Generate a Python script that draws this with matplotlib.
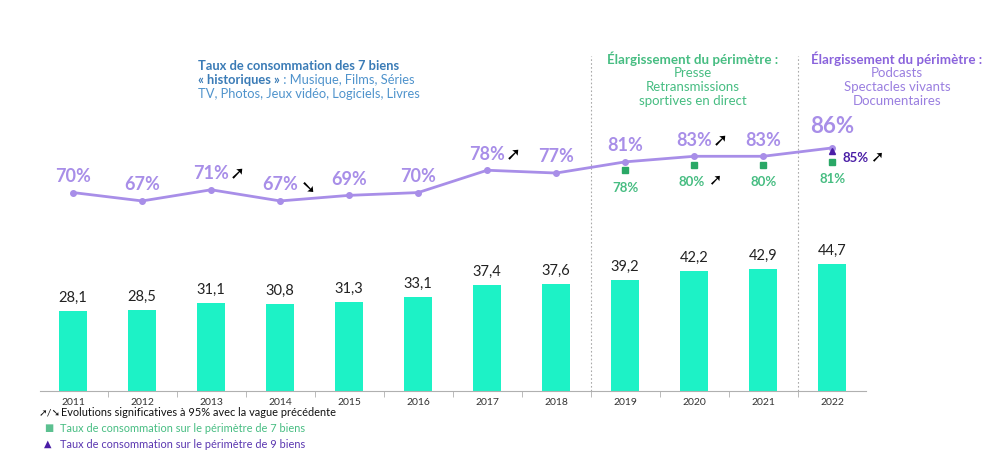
import matplotlib
matplotlib.use("Agg")
import matplotlib.pyplot as plt
import numpy as np

plt.rcParams['font.family'] = ['Lato', 'DejaVu Sans']

years = ["2011", "2012", "2013", "2014", "2015", "2016", "2017", "2018", "2019", "2020", "2021", "2022"]
volumes = [28.1, 28.5, 31.1, 30.8, 31.3, 33.1, 37.4, 37.6, 39.2, 42.2, 42.9, 44.7]
taux = [70, 67, 71, 67, 69, 70, 78, 77, 81, 83, 83, 86]
# arrow after the label: 1 up, -1 down, 0 none
taux_evol = [0, 0, 1, -1, 0, 0, 1, 0, 0, 1, 0, 0]
taux_7 = [78, 80, 80, 81]          # 2019-2022, 7 biens
taux_7_evol = [0, 1, 0, 0]
taux_9 = 85                        # 2022, 9 biens

UP = "➚"
DOWN = "➘"

BAR = "#1df2c6"
LINE = "#a88ee8"
GREEN = "#47bd82"
GREEN_M = "#2aa866"
DPURPLE = "#4a1ea6"
BLUE = "#3a7bb6"
BLUE_L = "#4f93cc"

fig = plt.figure(figsize=(10.04, 4.62), dpi=100)
ax = fig.add_axes([40/1004, 71/462, 826/1004, 391/462])
x = np.arange(len(years))

ax.bar(x, volumes, width=0.41, color=BAR, zorder=2)
for xi, v in zip(x, volumes):
    ax.text(xi, v + 4.6, "{:.1f}".format(v).replace(".", ","), ha="center", va="center",
            fontsize=10.5, color="#222222")

ax.set_xlim(-0.48, 11.49)
ax.set_ylim(0, 137.7)
for s in ["top", "right", "left"]:
    ax.spines[s].set_visible(False)
ax.spines["bottom"].set_color("#b0b0b0")
ax.set_yticks([])
ax.set_xticks(x)
ax.set_xticklabels(years, fontsize=7.5, color="#333333")
ax.tick_params(axis="x", which="major", length=0, pad=5)
ax.set_xticks(np.arange(-0.5, 12, 1), minor=True)
ax.tick_params(axis="x", which="minor", length=4, color="#b0b0b0")

# dashed separators
for xs in [7.5, 10.5]:
    ax.plot([xs, xs], [0, 118], color="#aaaaaa", lw=0.8, ls=(0, (1.5, 2)), zorder=1)

# percentage axis
ax2 = ax.twinx()
ax2.set_ylim(-1.1, 139.0)
ax2.set_xlim(-0.48, 11.49)
ax2.axis("off")
ax2.plot(x, taux, color=LINE, lw=2, marker="o", ms=4, zorder=3)
for i, (xi, t) in enumerate(zip(x, taux)):
    fs = 16 if i == len(x) - 1 else 13
    off = 7.5 if i == len(x) - 1 else 5.8
    ax2.text(xi, t + off, "{}%".format(t), ha="center", va="center", fontsize=fs,
             fontweight="bold", color=LINE)
    if taux_evol[i] > 0:
        ax2.text(xi + 0.38, t + off - 0.3, UP, ha="center", va="center",
                 fontsize=13, color="black")
    elif taux_evol[i] < 0:
        ax2.text(xi + 0.41, t + off - 1.0, DOWN, ha="center", va="center",
                 fontsize=13, color="black")

x7 = x[-4:]
ax2.plot(x7, taux_7, ls="none", marker="s", ms=4.5, color=GREEN_M, zorder=3)
for j, (xi, t) in enumerate(zip(x7, taux_7)):
    ax2.text(xi - (0.04 if taux_7_evol[j] else 0), t - 6.2, "{}%".format(t), ha="center", va="center",
             fontsize=9.5, fontweight="bold", color=GREEN)
    if taux_7_evol[j]:
        ax2.text(xi + 0.3, t - 5.7, UP, ha="center", va="center", fontsize=11.5, color="black")

ax2.plot([x[-1]], [taux_9], ls="none", marker="^", ms=5, color=DPURPLE, zorder=4)
ax2.text(x[-1] + 0.15, taux_9 - 2.5, "{}%".format(taux_9), ha="left", va="center",
         fontsize=9.5, fontweight="bold", color=DPURPLE)
ax2.text(x[-1] + 0.64, taux_9 - 2.5, UP, ha="center", va="center", fontsize=11.5, color="black")

# header texts
fig.text(198/1004, 1 - 66/462, "Taux de consommation des 7 biens", fontsize=9.3,
         fontweight="bold", color=BLUE, va="center")
t1 = fig.text(198/1004, 1 - 80/462, "« historiques »", fontsize=9.3,
              fontweight="bold", color=BLUE, va="center")
fig.canvas.draw()
bb = t1.get_window_extent()
fig.text(bb.x1/1004, 1 - 80/462, " : Musique, Films, Séries", fontsize=9.3,
         color=BLUE_L, va="center")
fig.text(198/1004, 1 - 94/462, "TV, Photos, Jeux vidéo, Logiciels, Livres", fontsize=9.3,
         color=BLUE_L, va="center")

fig.text(693/1004, 1 - 59/462, "Élargissement du périmètre :", fontsize=9.6,
         fontweight="bold", color=GREEN, ha="center", va="center")
for k, s in enumerate(["Presse", "Retransmissions", "sportives en direct"]):
    fig.text(693/1004, 1 - (73 + 14*k)/462, s, fontsize=9.5, color=GREEN,
             ha="center", va="center")

fig.text(897/1004, 1 - 59/462, "Élargissement du périmètre :", fontsize=9.6,
         fontweight="bold", color="#8a63dc", ha="center", va="center")
for k, s in enumerate(["Podcasts", "Spectacles vivants", "Documentaires"]):
    fig.text(897/1004, 1 - (73 + 14*k)/462, s, fontsize=9.5, color="#9a7fe0",
             ha="center", va="center")

# legend
fig.text(39/1004, 1 - 413/462, UP + "/" + DOWN, fontsize=7.5, color="#111111", va="center")
fig.text(61/1004, 1 - 413/462, "Evolutions significatives à 95% avec la vague précédente",
         fontsize=7.9, color="#111111", va="center")
fig.text(44/1004, 1 - 428/462, "■", fontsize=7, color="#5cc090", va="center")
fig.text(60/1004, 1 - 429/462, "Taux de consommation sur le périmètre de 7 biens",
         fontsize=7.9, color=GREEN, va="center")
fig.text(44/1004, 1 - 444/462, "▲", fontsize=7, color=DPURPLE, va="center")
fig.text(60/1004, 1 - 445/462, "Taux de consommation sur le périmètre de 9 biens",
         fontsize=7.9, color="#5a36b0", va="center")

fig.savefig("out.png", dpi=100)
